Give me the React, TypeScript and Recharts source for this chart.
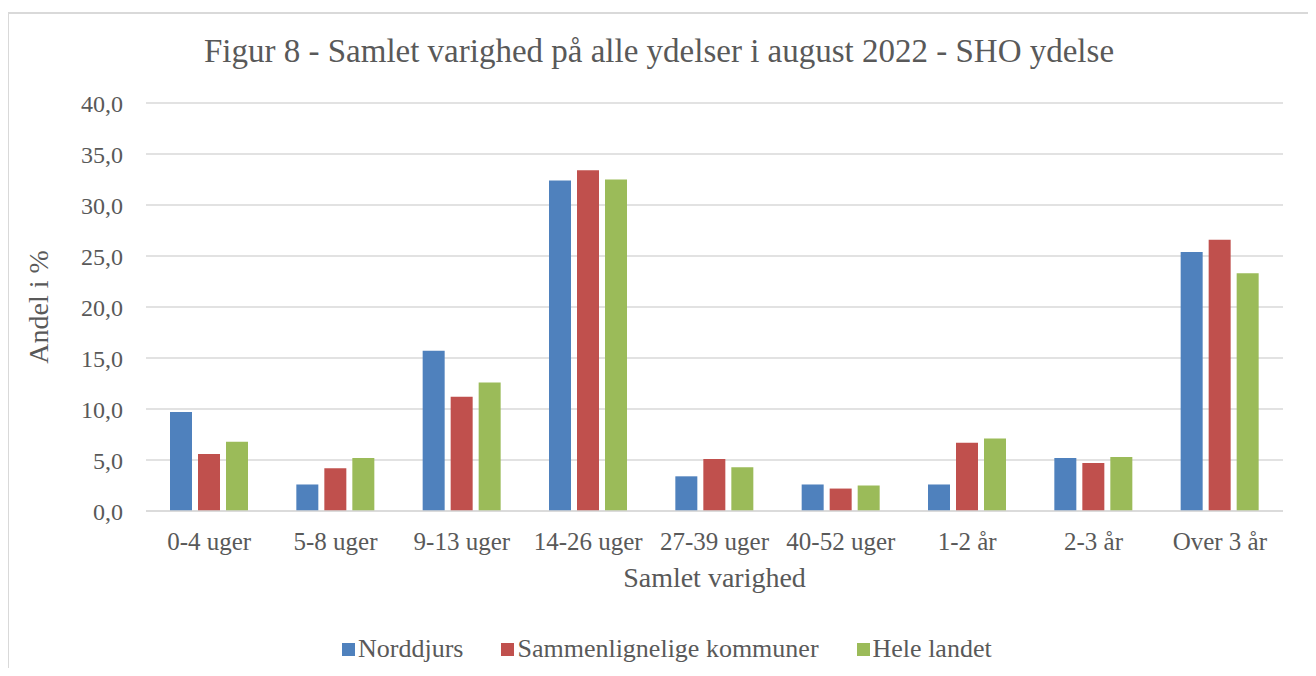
import { BarChart, Bar, XAxis, YAxis, CartesianGrid, Label } from 'recharts'

const categories = ['0-4 uger', '5-8 uger', '9-13 uger', '14-26 uger', '27-39 uger', '40-52 uger', '1-2 år', '2-3 år', 'Over 3 år']
const norddjurs = [9.7, 2.6, 15.7, 32.4, 3.4, 2.6, 2.6, 5.2, 25.4]
const sammenlignelige = [5.6, 4.2, 11.2, 33.4, 5.1, 2.2, 6.7, 4.7, 26.6]
const heleLandet = [6.8, 5.2, 12.6, 32.5, 4.3, 2.5, 7.1, 5.3, 23.3]
const yTicks = [0, 5, 10, 15, 20, 25, 30, 35, 40]

const seriesNames = ['Norddjurs', 'Sammenlignelige kommuner', 'Hele landet']
const seriesColors = ['#4F81BD', '#C0504D', '#9BBB59']

const FONT = '"Liberation Serif", "Times New Roman", serif'
const TEXT = '#595959'
const GRID = '#D9D9D9'

const data = categories.map((c, i) => ({
  name: c,
  norddjurs: norddjurs[i],
  sammenlignelige: sammenlignelige[i],
  hele: heleLandet[i],
}))

const fmt = (v: number) => v.toFixed(1).replace('.', ',')

export default function App() {
  return (
    <div style={{ position: 'relative', margin: -8, width: 1316, height: 676, overflow: 'hidden', background: '#fff', fontFamily: FONT }}>
      <div
        style={{
          position: 'absolute',
          left: 7,
          top: 12,
          width: 1302,
          height: 700,
          border: `2px solid ${GRID}`,
        }}
      />
      <div
        style={{
          position: 'absolute',
          left: 0,
          top: 35,
          width: 1318,
          textAlign: 'center',
          fontSize: 33,
          lineHeight: '33px',
          color: TEXT,
        }}
      >
        Figur 8 - Samlet varighed på alle ydelser i august 2022 - SHO ydelse
      </div>
      <div style={{ position: 'absolute', left: 0, top: 0 }}>
        <BarChart
          width={1316}
          height={676}
          data={data}
          margin={{ top: 103, right: 33, bottom: 80, left: 0 }}
          barSize={22}
          barGap={6}
        >
          <CartesianGrid stroke={GRID} strokeWidth={1.5} vertical={false} />
          <XAxis
            dataKey="name"
            height={85}
            tickLine={false}
            tickSize={0}
            tickMargin={21}
            axisLine={{ stroke: GRID, strokeWidth: 1.5 }}
            tick={{ fontFamily: FONT, fontSize: 25, fill: TEXT }}
            interval={0}
          >
            <Label
              content={(props: any) => {
                const vb = props.viewBox || {}
                return (
                  <text x={vb.x + vb.width / 2} y={587} textAnchor="middle" fontFamily={FONT} fontSize={28} fill={TEXT}>
                    Samlet varighed
                  </text>
                )
              }}
            />
          </XAxis>
          <YAxis
            width={146}
            domain={[0, 40]}
            ticks={yTicks}
            tickFormatter={fmt}
            tickLine={false}
            tickSize={0}
            tickMargin={23}
            axisLine={false}
            tick={{ fontFamily: FONT, fontSize: 24, fill: TEXT }}
          >
            <Label
              content={(props: any) => {
                const vb = props.viewBox || {}
                const cy = vb.y + vb.height / 2
                return (
                  <text transform={`translate(48,${cy}) rotate(-90)`} x={0} y={0} textAnchor="middle" fontFamily={FONT} fontSize={28} fill={TEXT}>
                    Andel i %
                  </text>
                )
              }}
            />
          </YAxis>
          <Bar dataKey="norddjurs" name={seriesNames[0]} fill={seriesColors[0]} isAnimationActive={false} />
          <Bar dataKey="sammenlignelige" name={seriesNames[1]} fill={seriesColors[1]} isAnimationActive={false} />
          <Bar dataKey="hele" name={seriesNames[2]} fill={seriesColors[2]} isAnimationActive={false} />
        </BarChart>
      </div>
      <div
        style={{
          position: 'absolute',
          left: 342,
          top: 634,
          height: 30,
          display: 'flex',
          alignItems: 'center',
          fontSize: 26,
          color: TEXT,
        }}
      >
        {seriesNames.map((n, i) => (
          <div key={n} style={{ display: 'flex', alignItems: 'center', marginRight: 38 }}>
            <span style={{ display: 'inline-block', width: 13, height: 13, background: seriesColors[i], marginRight: 3 }} />
            <span>{n}</span>
          </div>
        ))}
      </div>
    </div>
  )
}
